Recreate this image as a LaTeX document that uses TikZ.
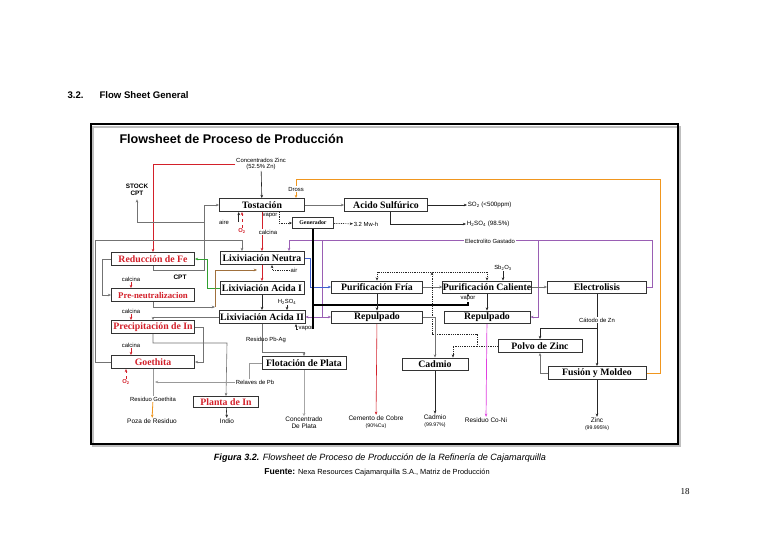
\documentclass[tikz,border=0pt]{standalone}
\usepackage{fontspec}
\setmainfont{Liberation Serif}
\setsansfont{Liberation Sans}
\usetikzlibrary{arrows.meta,backgrounds}

\definecolor{FSRed}{HTML}{D3202A}
\definecolor{FSOrange}{HTML}{F0961E}
\definecolor{FSPurple}{HTML}{9A5FB4}
\definecolor{FSBlue}{HTML}{4060D0}
\definecolor{FSGreen}{HTML}{30A030}
\definecolor{FSBrown}{HTML}{A0703C}
\definecolor{FSMagenta}{HTML}{E040E0}

\begin{document}
\begin{tikzpicture}[
    x=1pt,
    y=-1pt,
    >={Stealth[length=3.2pt,width=2.6pt]},
    proc/.style={draw=black!80, fill=white, line width=0.9pt,
                 minimum height=13pt, inner sep=0pt,
                 font=\bfseries\fontsize{9.8}{10}\selectfont},
    redproc/.style={proc, text=FSRed},
    lbl/.style={font=\sffamily\fontsize{5.9}{6.5}\selectfont,
                inner sep=0.6pt, align=center},
    outlbl/.style={font=\sffamily\fontsize{6.5}{7}\selectfont,
                   inner sep=0.6pt, align=center},
    oxlbl/.style={font=\sffamily\bfseries\fontsize{5.8}{6}\selectfont,
                  text=FSRed, inner sep=0.6pt},
    flow/.style={draw=black!55, line width=0.6pt, ->},
    flowk/.style={draw=black!85, line width=0.6pt, ->},
    redflow/.style={draw=FSRed, line width=0.6pt, ->},
    oxyflow/.style={draw=FSRed, line width=0.9pt, dashed, ->},
    dotflow/.style={draw=black!85, line width=0.7pt,
                    dash pattern=on 0.8pt off 1pt},
    heavy/.style={draw=black, line width=1.4pt}
]
\useasboundingbox (0,0) rectangle (768,544);

% Page heading, frame and title
\node[anchor=west, font=\sffamily\bfseries\fontsize{9.6}{11}\selectfont]
      (secnum) at (64,95) {3.2.};
\node[anchor=west, font=\sffamily\bfseries\fontsize{9.6}{11}\selectfont]
      (sectitle) at (96,95) {Flow Sheet General};
\draw[black!25, line width=1.2pt] (93,127) rectangle (680,446);
\draw[line width=1.8pt] (91,124) rectangle (678,444);
\node[anchor=west, font=\sffamily\bfseries\fontsize{12.6}{14}\selectfont]
      (fstitle) at (116,139) {Flowsheet de Proceso de Producción};

% Process units
\node[proc, minimum width=85pt] (tost) at (262,205) {Tostación};
\node[proc, minimum width=83pt] (acido) at (386,205) {Acido Sulfúrico};
\node[proc, minimum width=41pt, minimum height=11pt,
      font=\bfseries\fontsize{5.8}{6}\selectfont] (gen) at (313,223) {Generador};
\node[redproc, minimum width=83pt] (redfe) at (153,259) {Reducción de Fe};
\node[proc, minimum width=84pt] (lixneu) at (262,258) {Lixiviación Neutra};
\node[redproc, minimum width=83pt, font=\bfseries\fontsize{8.8}{9}\selectfont]
      (preneu) at (153,295) {Pre-neutralizacion};
\node[proc, minimum width=84pt] (lixa1) at (262,288) {Lixiviación Acida I};
\node[proc, minimum width=86pt] (lixa2) at (262,317) {Lixiviación Acida II};
\node[redproc, minimum width=83pt] (precin) at (153,327) {Precipitación de In};
\node[proc, minimum width=91pt, minimum height=12pt] (purfri) at (377,287) {Purificación Fría};
\node[proc, minimum width=86pt, minimum height=12pt] (purcal) at (487,287) {Purificación Caliente};
\node[proc, minimum width=99pt, minimum height=12pt] (electro) at (597,287) {Electrolisis};
\node[proc, minimum width=91pt, minimum height=12pt] (rep1) at (377,317) {Repulpado};
\node[proc, minimum width=86pt, minimum height=12pt] (rep2) at (487,317) {Repulpado};
\node[redproc, minimum width=83pt] (goe) at (153,362) {Goethita};
\node[proc, minimum width=84pt] (flot) at (304,363) {Flotación de Plata};
\node[proc, minimum width=66pt, minimum height=12pt] (cadm) at (435,364) {Cadmio};
\node[proc, minimum width=84pt] (polvo) at (540,346) {Polvo de Zinc};
\node[proc, minimum width=98pt] (fusion) at (597,373) {Fusión y Moldeo};
\node[redproc, minimum width=65pt, minimum height=11pt] (plantin) at (226,402) {Planta de In};

% Stream labels
\node[lbl] (conc) at (261,164) {Concentrados Zinc\\(52.5\% Zn)};
\node[font=\sffamily\bfseries\fontsize{6.4}{7}\selectfont, align=center]
      (stock) at (137,190) {STOCK\\CPT};
\node[lbl, fill=white] (dross) at (296,189) {Dross};
\node[lbl] (vap1) at (270,216) {vapor};
\node[lbl] (aire) at (224,222) {aire};
\node[oxlbl] (oxy1) at (242,231) {O\textsubscript{2}};
\node[lbl, fill=white] (calc1) at (268,232) {calcina};
\node[lbl, anchor=west] (mwh) at (353,224) {3.2 Mw-h};
\node[lbl, anchor=west, font=\sffamily\fontsize{6.2}{7}\selectfont]
      (so2) at (467,205) {SO\textsubscript{2} (<500ppm)};
\node[lbl, anchor=west, font=\sffamily\fontsize{6.2}{7}\selectfont]
      (hso) at (466,224) {H\textsubscript{2}SO\textsubscript{4} (98.5\%)};
\node[lbl, fill=white] (electxt) at (490,241) {Electrolito Gastado};
\node[font=\sffamily\bfseries\fontsize{6.5}{7}\selectfont] (cpt) at (180,277) {CPT};
\node[lbl] (calc2) at (131,279) {calcina};
\node[lbl] (calc3) at (131,311) {calcina};
\node[lbl] (calc4) at (131,345) {calcina};
\node[lbl] (air2) at (294,270) {air};
\node[lbl] (hso2) at (287,302) {H\textsubscript{2}SO\textsubscript{4}};
\node[lbl] (vap2) at (306,329) {vapor};
\node[lbl] (sbo) at (503,268) {Sb\textsubscript{2}O\textsubscript{3}};
\node[lbl, fill=white] (vap3) at (468,299) {vapor};
\node[lbl, fill=white] (catodo) at (597,320) {Cátodo de Zn};
\node[lbl] (respb) at (266,340) {Residuo Pb-Ag};
\node[lbl, fill=white] (relaves) at (255,382) {Relaves de Pb};
\node[oxlbl] (oxy2) at (126,382) {O\textsubscript{2}};
\node[lbl, fill=white] (resgoe) at (153,399) {Residuo Goethita};
\node[outlbl] (poza) at (152,421) {Poza de Residuo};
\node[outlbl] (indio) at (227,421) {Indio};
\node[outlbl] (concpl) at (304,423) {Concentrado\\De Plata};
\node[outlbl] (cemento) at (376,422) {Cemento de Cobre\\{\fontsize{5.2}{6}\selectfont(90\%Cu)}};
\node[outlbl] (cadtxt) at (435,421) {Cadmio\\{\fontsize{5.2}{6}\selectfont(99.97\%)}};
\node[outlbl] (resconi) at (486,420) {Residuo Co-Ni};
\node[outlbl] (zinc) at (597,424) {Zinc\\{\fontsize{5.2}{6}\selectfont(99.995\%)}};

% Junction points of the stream lines
\coordinate (jcpt) at (204,270);
\coordinate (jstock) at (204,222);
\coordinate (jgoe) at (95,240);
\coordinate (jneuin) at (242,240);
\coordinate (jel) at (652,240);
\coordinate (jneu) at (289,240);
\coordinate (jp1) at (322,240);
\coordinate (jp2) at (322,317);
\coordinate (jp3) at (538,240);
\coordinate (jblue) at (310,258);
\coordinate (jgen) at (314,305);
\coordinate (jdot) at (432,272);
\coordinate (jpolvo) at (477,346);
\coordinate (jcat) at (597,328);
\coordinate (jor1) at (660,179);
\coordinate (jor2) at (296,179);
\coordinate (jpb) at (304,352);
\coordinate (jin) at (227,343);
\coordinate (jrel) at (249,382);
\coordinate (jbrown) at (215,307);

\begin{scope}[on background layer]
\fill[white] (0,0) rectangle (768,544);

% Roasting and acid plant
\draw[flowk] (conc) -- (tost);
\draw[FSRed, line width=0.6pt, ->] (conc.west) -| (redfe.north);
\draw[flow] (tost) -- (acido);
\draw[flowk] (acido) -- (so2);
\draw[flowk] ([xshift=4pt]acido.south) |- (hso);
\draw[dotflow, ->] ([xshift=17pt]tost.south) |- (gen.west);
\draw[dotflow, ->] (gen) -- (mwh);
\draw[flowk] (aire.east) ++(9,0) coordinate (aireup) -- (aireup |- tost.south);
\draw[oxyflow] (oxy1.north) -- (oxy1.north |- tost.south);
\draw[redflow] (tost) -- (lixneu);
\draw[draw=FSOrange, line width=0.8pt, ->] (fusion.east) -| (jor1) -- (jor2) -- (jor2 |- tost.north);

% Returns to roasting and neutral leach
\draw[flow] (redfe.south) |- (jcpt) |- (tost.west);
\draw[flow] (jstock) -| (stock.south);
\draw[flow] (goe.west) -| (jgoe) -- (jneuin) -- (jneuin |- lixneu.north);
\draw[draw=FSPurple, line width=0.7pt, ->] (electro.east) -| (jel) -- (jneu) -- (jneu |- lixneu.north);
\draw[draw=FSPurple, line width=0.7pt, ->] (jp1) -- (jp2) -- (lixa2.east);
\draw[draw=FSPurple, line width=0.7pt, ->] (jp2) -- (rep1.west);
\draw[draw=FSPurple, line width=0.7pt, ->] (jp3) |- (rep2.east);

% Leaching train
\draw[draw=FSBlue, line width=0.6pt, ->] (lixneu.east) -- (jblue) |- (purfri.west);
\draw[redflow] (lixneu) -- (lixa1);
\draw[flowk] (lixa1) -- (lixa2);
\draw[flowk] (hso2.south) -- (hso2.south |- lixa2.north);
\draw[dotflow, ->] (air2.west) -| ([xshift=10pt]lixneu.south);
\draw[heavy] (gen.south) -- (gen.south |- vap2);
\draw[heavy] (jgen) -| (vap3.south);
\draw[flowk] (vap3.north) -- (vap3.north |- purcal.south);
\draw[flowk] (vap2.west) -| ([xshift=34pt]lixa2.south);
\draw[draw=FSGreen, line width=0.6pt, ->] (lixa1.west) -- ++(-12,0) |- (redfe.east);

% Iron and indium circuit
\draw[flow] (redfe.west) -- ++(-9,0) |- (preneu.west);
\draw[redflow] (calc2) -- (calc2 |- preneu.north);
\draw[redflow] (calc3) -- (calc3 |- precin.north);
\draw[redflow] (calc4) -- (calc4 |- goe.north);
\draw[flow] (preneu.south) |- (jbrown);
\draw[draw=FSBrown, line width=0.6pt, ->] (jbrown) |- ([xshift=-5pt]lixneu.south |- air2);
\draw[flow] (lixa2.west) -| (precin.north);
\draw[flow] (precin.east) -- ++(8,0) |- (goe.east);
\draw[flow] (precin.south) |- (jin) -- (plantin.north);
\draw[flowk] (plantin) -- (indio);
\draw[oxyflow] (oxy2.north) -- (oxy2.north |- goe.south);
\draw[draw=black!40, line width=0.6pt] (goe) -- (resgoe);
\draw[draw=FSOrange, line width=0.8pt, ->] (resgoe) -- (poza);

% Silver flotation
\draw[flow] (lixa2.south) |- (jpb) -- (flot.north);
\draw[draw=black!35, line width=0.6pt, ->] (flot) -- (concpl);
\draw[draw=black!40, line width=0.6pt, ->] (flot.west) -| (jrel) -- ([xshift=2pt]goe.south |- jrel);

% Purification and electrolysis
\draw[flow] (purfri) -- (purcal);
\draw[flow] (purcal) -- (electro);
\draw[flowk] (sbo.south) -- (sbo.south |- purcal.north);
\draw[dotflow, <->] (purfri.north) |- (jdot) -| (purcal.north);
\draw[dotflow, ->] (polvo.west) -- (jpolvo) |- (jdot |- 0,334) -- (jdot);
\draw[dotflow, ->] (jpolvo) -| ([xshift=18pt]cadm.north);
\draw[flowk] (purfri) -- (rep1);
\draw[flowk] (purcal) -- (rep2);
\draw[redflow] (rep1) -- (cemento);
\draw[flow] (rep1.east) -| (cadm.north);
\draw[draw=FSMagenta, line width=0.7pt, ->] (rep2) -- (resconi);
\draw[flowk] (cadm) -- (cadtxt);
\draw[flowk] (electro) -- (fusion);
\draw[flowk] (jcat) -| (polvo.north);
\draw[flow] (fusion.west) -| (polvo.south);
\draw[flowk] (fusion) -- (zinc);
\end{scope}

% Caption and page number
\node[font=\sffamily\itshape\fontsize{9.1}{10}\selectfont] (caption) at (380,458)
      {\textbf{Figura 3.2.} Flowsheet de Proceso de Producción de la Refinería de Cajamarquilla};
\node[font=\sffamily\fontsize{7.4}{8}\selectfont] (source) at (377,472)
      {{\bfseries\fontsize{8.6}{9}\selectfont Fuente:} Nexa Resources Cajamarquilla S.A., Matriz de Producción};
\node[font=\fontsize{9}{10}\selectfont] (pagenum) at (685,492) {18};
\end{tikzpicture}
\end{document}
